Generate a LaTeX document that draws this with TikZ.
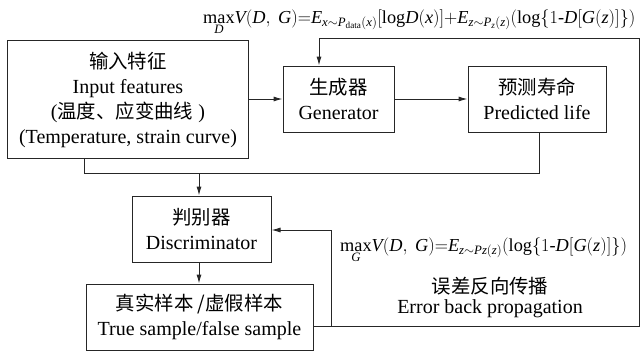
\documentclass[tikz,border=0pt]{standalone}
\usepackage{fix-cm}
\usepackage{fontspec}
\setmainfont{Liberation Serif}
\newfontfamily\cjk[Scale=0.97]{Noto Sans CJK SC}
\usetikzlibrary{arrows.meta}
\tikzset{
  box/.style={draw=black!85, line width=1pt, inner sep=0pt, align=center,
    font=\fontsize{20}{25}\selectfont},
  conn/.style={draw=black!85, line width=1pt},
  arr/.style={conn, -{Latex[length=9pt,width=5pt]}},
  lbl/.style={inner sep=0pt, align=center, font=\fontsize{20}{25}\selectfont},
  formula/.style={inner sep=0pt, font=\fontsize{18.3}{22}\selectfont},
}
\newcommand{\mi}[1]{\mathit{#1}}
\newcommand{\mymax}[1]{{\mathop{\mathrm{max}}\limits_{#1}}}
\newcommand{\mylog}{\mathrm{log}}
\begin{document}
\begin{tikzpicture}[x=1pt,y=-1pt]
\useasboundingbox (0,0) rectangle (643,351);
% boxes
\node[box, minimum width=241pt, minimum height=118pt] (input) at (128,99.5)
  {{\cjk 输入特征}\\Input features\\({\cjk 温度、应变曲线} )\\(Temperature, strain curve)};
\node[box, minimum width=111pt, minimum height=66pt] (gen) at (338.5,99)
  {{\cjk 生成器}\\Generator};
\node[box, minimum width=138pt, minimum height=66pt] (pred) at (537,99)
  {{\cjk 预测寿命}\\Predicted life};
\node[box, minimum width=139pt, minimum height=66pt] (disc) at (201.5,229)
  {{\cjk 判别器}\\Discriminator};
\node[box, minimum width=227pt, minimum height=66pt] (true) at (199.5,317)
  {{\cjk 真实样本 /虚假样本}\\True sample/false sample};
% formulas and labels
\node[formula, anchor=base west] (f1) at (203,23)
  {$\mymax{\mi{D}}\mi{V}(\mi{D},\ \mi{G}){=}\mi{E}_{\mi{x}\sim \mi{P}_{\mathrm{data}}(\mi{x})}[\mylog\mi{D}(\mi{x})]{+}\mi{E}_{\mi{z}\sim \mi{P}_{\mi{z}}(\mi{z})}(\mylog\{1\mbox{-}\mi{D}[\mi{G}(\mi{z})]\})$};
\node[formula, anchor=base west] (f2) at (340,251)
  {$\mymax{\mi{G}}\mi{V}(\mi{D},\ \mi{G}){=}\mi{E}_{\mi{z}\sim \mi{Pz}(\mi{z})}(\mylog\{1\mbox{-}\mi{D}[\mi{G}(\mi{z})]\})$};
\node[lbl] (l1) at (490,286) {\cjk 误差反向传播};
\node[lbl] (l2) at (490,309) {Error back propagation};
% coordinates
\coordinate (a1) at (84,158);
\coordinate (j1) at (199,173);
\coordinate (j2) at (539,173);
\coordinate (fbL) at (331,326);
\coordinate (fbR) at (639,326);
\coordinate (fbT) at (639,38);
\coordinate (gT) at (319,38);
% connectors
\draw[arr] (input.east |- gen.west) -- (gen.west);
\draw[arr] (gen.east) -- (pred.west);
\draw[conn] (a1) |- (j2) -- (j2 |- pred.south);
\draw[arr] (j1) -- (j1 |- disc.north);
\draw[arr] (j1 |- disc.south) -- (j1 |- true.north);
\draw[arr] (true.east |- fbR) -- (fbR) -- (fbT) -- (gT) -- (gT |- gen.north);
\draw[arr] (fbL) |- (disc.east |- 0,230);
\end{tikzpicture}
\end{document}
